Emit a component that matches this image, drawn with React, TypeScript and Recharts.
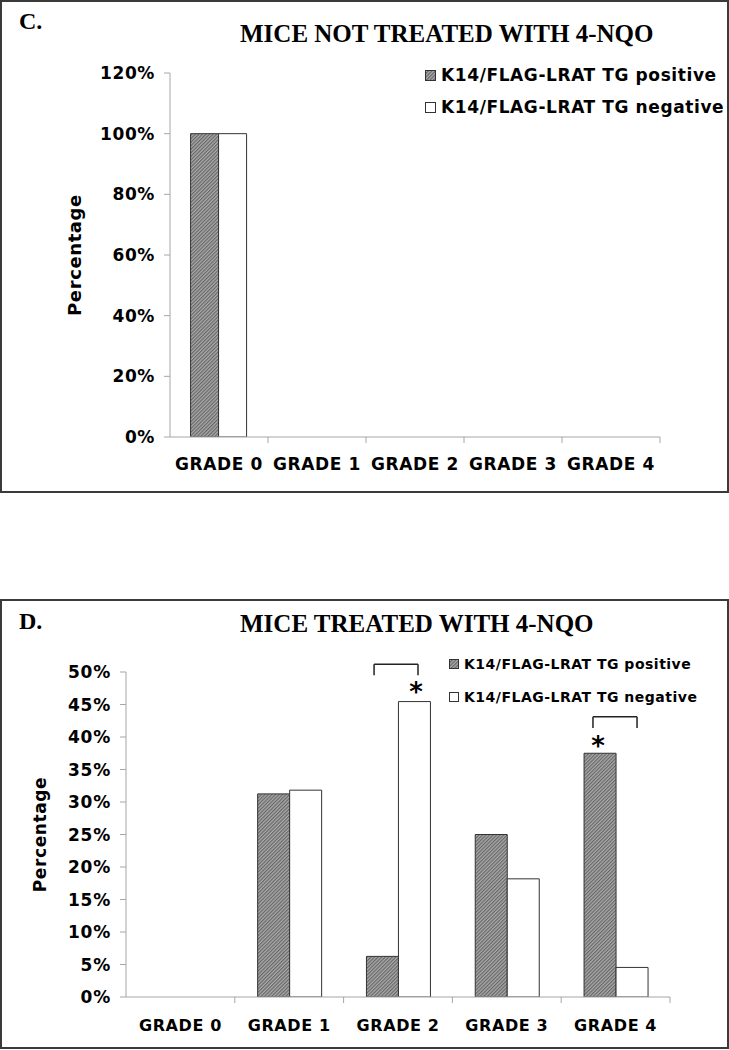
import React from 'react';
import { BarChart, Bar, XAxis, YAxis, Legend, ReferenceLine, ReferenceDot } from 'recharts';

// ---------- data ----------
const grades = ['GRADE 0', 'GRADE 1', 'GRADE 2', 'GRADE 3', 'GRADE 4'];
const seriesNames = ['K14/FLAG-LRAT TG positive', 'K14/FLAG-LRAT TG negative'];

const untreatedPositive = [100, 0, 0, 0, 0];
const untreatedNegative = [100, 0, 0, 0, 0];
const untreatedTicks = [0, 20, 40, 60, 80, 100, 120];

const treatedPositive = [0, 31.25, 6.25, 25, 37.5];
const treatedNegative = [0, 31.82, 45.45, 18.18, 4.55];
const treatedTicks = [0, 5, 10, 15, 20, 25, 30, 35, 40, 45, 50];

// significance brackets (x in category units 0..5, y in percent)
const treatedBrackets = [
  { from: 2.28, to: 2.684, top: 51.2, bottom: 49.5, starX: 2.665, starY: 47.8 },
  { from: 4.292, to: 4.697, top: 43.1, bottom: 41.4, starX: 4.338, starY: 39.5 },
];

const SANS = 'DejaVu Sans, Verdana, sans-serif';
const SERIF = 'Liberation Serif, Times New Roman, serif';
const AXIS_COLOR = '#a6a6a6';

type Cfg = {
  top: number;
  height: number;
  margin: { top: number; right: number; bottom: number; left: number };
  yAxisWidth: number;
  xAxisHeight: number;
  letter: string;
  letterX: number;
  letterY: number;
  title: string;
  titleX: number;
  titleY: number;
  legendLeft: number;
  legendTop: number;
  legendRow: number;
  legendFs: number;
  legendLs: number;
  legendSq: number;
  yLabelX: number;
  yLabelFs: number;
  yTickFs: number;
  yTickLs: number;
  xTickFs: number;
  xTickLs: number;
  xLabelDy: number;
  hatchId: string;
};

const CHART_W = 729;

function Panel({ cfg, positive, negative, ticks, yMax, brackets }: {
  cfg: Cfg; positive: number[]; negative: number[]; ticks: number[]; yMax: number;
  brackets: typeof treatedBrackets;
}) {
  const data = grades.map((g, i) => ({ grade: g, slot: i, pos: positive[i], neg: negative[i] }));
  const plotW = CHART_W - cfg.margin.left - cfg.margin.right - cfg.yAxisWidth;
  const halfBand = plotW / grades.length / 2;

  const YTick = (p: any) => (
    <text x={p.x} y={p.y} dy="0.36em" textAnchor="end" fontFamily={SANS} fontWeight="bold"
      fontSize={cfg.yTickFs} letterSpacing={cfg.yTickLs} fill="#000">
      {`${p.payload.value}%`}
    </text>
  );

  const XTick = (p: any) => (
    <g>
      <line x1={p.x + halfBand} x2={p.x + halfBand} y1={p.y} y2={p.y + 6} stroke={AXIS_COLOR} strokeWidth={1} />
      <text x={p.x} y={p.y + cfg.xLabelDy} textAnchor="middle" fontFamily={SANS} fontWeight="bold"
        fontSize={cfg.xTickFs} letterSpacing={cfg.xTickLs} fill="#000">
        {p.payload.value}
      </text>
    </g>
  );

  const YLabel = (p: any) => {
    const vb = p.viewBox || { y: 0, height: 0 };
    const cy = vb.y + vb.height / 2;
    return (
      <text x={cfg.yLabelX} y={cy} dy="0.36em" textAnchor="middle" fontFamily={SANS} fontWeight="bold"
        fontSize={cfg.yLabelFs} letterSpacing={0.6} fill="#000"
        transform={`rotate(-90, ${cfg.yLabelX}, ${cy})`}>
        Percentage
      </text>
    );
  };

  const renderLegend = (props: any) => {
    const payload = [...(props.payload || [])].sort(
      (a: any, b: any) => seriesNames.indexOf(a.value) - seriesNames.indexOf(b.value));
    return (
      <div style={{ fontFamily: SANS, fontWeight: 'bold', fontSize: cfg.legendFs, letterSpacing: cfg.legendLs, color: '#000', whiteSpace: 'nowrap' }}>
        {payload.map((e: any, i: number) => (
          <div key={i} style={{ display: 'flex', alignItems: 'center', height: cfg.legendRow }}>
            <svg width={cfg.legendSq} height={cfg.legendSq} style={{ display: 'block' }}>
              <rect x={0.5} y={0.5} width={cfg.legendSq - 1} height={cfg.legendSq - 1} fill={e.color} stroke="#333" strokeWidth={1} />
            </svg>
            <span style={{ marginLeft: 5 }}>{e.value}</span>
          </div>
        ))}
      </div>
    );
  };

  const Star = (p: any) => (
    <text x={p.cx} y={p.cy} dy="0.55em" textAnchor="middle" fontFamily={SANS} fontWeight="bold" fontSize={26} fill="#000">*</text>
  );

  return (
    <div style={{ position: 'absolute', left: 0, top: cfg.top, width: CHART_W, height: cfg.height }}>
      <div style={{ position: 'absolute', left: 0, top: 0, width: CHART_W, height: cfg.height, border: '2px solid #3a3a3a', boxSizing: 'border-box' }} />
      <div style={{ position: 'absolute', left: 0, top: 0 }}>
        <BarChart width={CHART_W} height={cfg.height} data={data} margin={cfg.margin} barCategoryGap="21%" barGap={0}>
          <XAxis dataKey="grade" interval={0} tickLine={false} tickSize={0} tickMargin={0}
            height={cfg.xAxisHeight} axisLine={{ stroke: AXIS_COLOR }} tick={<XTick />} />
          <XAxis xAxisId="num" dataKey="slot" type="number" domain={[0, grades.length]} hide allowDataOverflow />
          <YAxis width={cfg.yAxisWidth} domain={[0, yMax]} ticks={ticks} interval={0} allowDataOverflow
            tickSize={6} tickMargin={9} axisLine={{ stroke: AXIS_COLOR }} tickLine={{ stroke: AXIS_COLOR }}
            tick={<YTick />} label={<YLabel />} />
          <Legend layout="vertical" align="center" verticalAlign="middle" content={renderLegend}
            wrapperStyle={{ position: 'absolute', left: cfg.legendLeft, top: cfg.legendTop, width: 'auto' }} />
          <Bar dataKey="pos" name={seriesNames[0]} fill={`url(#${cfg.hatchId})`} stroke="#333" strokeWidth={1} isAnimationActive={false} />
          <Bar dataKey="neg" name={seriesNames[1]} fill="#ffffff" stroke="#333" strokeWidth={1} isAnimationActive={false} />
          {brackets.map((b, i) => (
            <ReferenceLine key={`h${i}`} xAxisId="num" ifOverflow="visible" stroke="#222" strokeWidth={1.5}
              segment={[{ x: b.from, y: b.top }, { x: b.to, y: b.top }]} />
          ))}
          {brackets.map((b, i) => (
            <ReferenceLine key={`l${i}`} xAxisId="num" ifOverflow="visible" stroke="#222" strokeWidth={1.5}
              segment={[{ x: b.from, y: b.top }, { x: b.from, y: b.bottom }]} />
          ))}
          {brackets.map((b, i) => (
            <ReferenceLine key={`r${i}`} xAxisId="num" ifOverflow="visible" stroke="#222" strokeWidth={1.5}
              segment={[{ x: b.to, y: b.top }, { x: b.to, y: b.bottom }]} />
          ))}
          {brackets.map((b, i) => (
            <ReferenceDot key={`s${i}`} xAxisId="num" x={b.starX} y={b.starY} r={1} ifOverflow="visible" shape={<Star />} />
          ))}
        </BarChart>
      </div>
      <svg width={CHART_W} height={cfg.height} style={{ position: 'absolute', left: 0, top: 0, pointerEvents: 'none' }}>
        <text x={cfg.letterX} y={cfg.letterY} fontFamily={SERIF} fontWeight="bold" fontSize={24} fill="#000">{cfg.letter}</text>
        <text x={cfg.titleX} y={cfg.titleY} fontFamily={SERIF} fontWeight="bold" fontSize={25} fill="#000">{cfg.title}</text>
      </svg>
    </div>
  );
}

const topCfg: Cfg = {
  top: 0, height: 493,
  margin: { top: 73, right: 69, bottom: 16, left: 70 },
  yAxisWidth: 100, xAxisHeight: 40,
  letter: 'C.', letterX: 19, letterY: 29,
  title: 'MICE NOT TREATED WITH 4-NQO', titleX: 240, titleY: 42,
  legendLeft: 425, legendTop: 59, legendRow: 32, legendFs: 17, legendLs: 0.6, legendSq: 11,
  yLabelX: 75, yLabelFs: 18, yTickFs: 17, yTickLs: 0.6, xTickFs: 17, xTickLs: 0.6, xLabelDy: 33,
  hatchId: 'hatchC',
};

const bottomCfg: Cfg = {
  top: 599, height: 450,
  margin: { top: 73, right: 59, bottom: 12, left: 26 },
  yAxisWidth: 100, xAxisHeight: 40,
  letter: 'D.', letterX: 19, letterY: 30,
  title: 'MICE TREATED WITH 4-NQO', titleX: 240, titleY: 33,
  legendLeft: 449, legendTop: 48.5, legendRow: 33, legendFs: 14, legendLs: 0.5, legendSq: 10,
  yLabelX: 40, yLabelFs: 17, yTickFs: 17, yTickLs: 0.8, xTickFs: 16, xTickLs: 0.6, xLabelDy: 34,
  hatchId: 'hatchD',
};

function HatchDefs() {
  return (
    <svg width={0} height={0} style={{ position: 'absolute' }}>
      <defs>
        {['hatchC', 'hatchD'].map((id) => (
          <pattern key={id} id={id} patternUnits="userSpaceOnUse" width={2.5} height={2.5} patternTransform="rotate(45)">
            <rect x={0} y={0} width={2.5} height={2.5} fill="#a9a9a9" />
            <line x1={0.6} y1={0} x2={0.6} y2={2.5} stroke="#5c5c5c" strokeWidth={1} />
          </pattern>
        ))}
      </defs>
    </svg>
  );
}

export default function App() {
  return (
    <div style={{ position: 'absolute', left: 0, top: 0, width: 729, height: 1050, background: '#fff' }}>
      <HatchDefs />
      <Panel cfg={topCfg} positive={untreatedPositive} negative={untreatedNegative} ticks={untreatedTicks} yMax={120} brackets={[]} />
      <Panel cfg={bottomCfg} positive={treatedPositive} negative={treatedNegative} ticks={treatedTicks} yMax={50} brackets={treatedBrackets} />
    </div>
  );
}
